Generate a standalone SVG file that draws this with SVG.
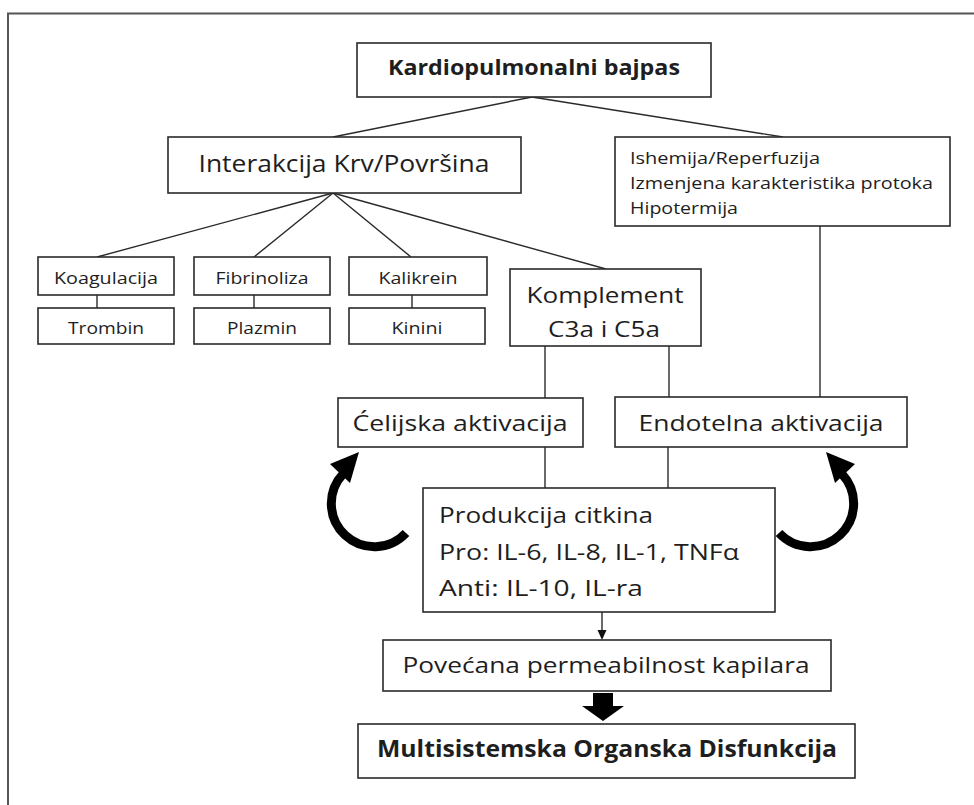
<svg xmlns="http://www.w3.org/2000/svg" width="974" height="805" viewBox="0 0 974 805">
<style>
.box{fill:#fff;stroke:#2a2a2a;stroke-width:1.6}
.t{font-family:"Open Sans","Liberation Sans",Arial,sans-serif;fill:#1e1e1e}
.b{font-weight:bold}
.c{text-anchor:middle}
.ln{stroke:#2a2a2a;stroke-width:1.4;fill:none}
.cur{stroke:#000;stroke-width:9;fill:none}
</style>
<rect width="974" height="805" fill="#fff"/>
<path d="M8 805 V13.5 H974" fill="none" stroke="#555" stroke-width="2"/>

<g id="connectors">
<line class="ln" x1="532" y1="97" x2="333" y2="137"/>
<line class="ln" x1="532" y1="97" x2="783" y2="137"/>
<line class="ln" x1="333" y1="193" x2="97" y2="257"/>
<line class="ln" x1="333" y1="193" x2="254" y2="257"/>
<line class="ln" x1="333" y1="193" x2="411" y2="257"/>
<line class="ln" x1="333" y1="193" x2="606" y2="269"/>
<line class="ln" x1="97" y1="295" x2="97" y2="308"/>
<line class="ln" x1="254" y1="295" x2="254" y2="308"/>
<line class="ln" x1="412" y1="295" x2="412" y2="308"/>
<line class="ln" x1="545" y1="346" x2="545" y2="398"/>
<line class="ln" x1="669" y1="344" x2="669" y2="397"/>
<line class="ln" x1="820" y1="226" x2="820" y2="397"/>
<line class="ln" x1="545" y1="447" x2="545" y2="488"/>
<line class="ln" x1="668" y1="447" x2="668" y2="488"/>
<line class="ln" x1="602" y1="612" x2="602" y2="631"/>
<polygon points="597.5,630 606.5,630 602,640" fill="#111"/>
<polygon points="593,693 613,693 613,706 624,706 603,721 582,706 593,706" fill="#000"/>
<path class="cur" d="M406 533 A42 42 0 1 1 343 474"/>
<polygon points="359,452 330,464 350,483" fill="#000"/>
<path class="cur" d="M779 533 A42 42 0 1 0 842 474"/>
<polygon points="826,452 855,464 835,483" fill="#000"/>
</g>

<g id="n-kardio">
<rect class="box" x="357" y="43" width="354" height="54"/>
<text class="t b c" x="534" y="75" font-size="21" textLength="292" lengthAdjust="spacingAndGlyphs">Kardiopulmonalni bajpas</text>
</g>
<g id="n-interakcija">
<rect class="box" x="168" y="137" width="353" height="56"/>
<text class="t c" x="344" y="172" font-size="23" textLength="291" lengthAdjust="spacingAndGlyphs">Interakcija Krv/Površina</text>
</g>
<g id="n-ishemija">
<rect class="box" x="615" y="137" width="335" height="89"/>
<text class="t" x="630" y="164" font-size="17" textLength="190" lengthAdjust="spacingAndGlyphs">Ishemija/Reperfuzija</text>
<text class="t" x="630" y="189" font-size="17" textLength="303" lengthAdjust="spacingAndGlyphs">Izmenjena karakteristika protoka</text>
<text class="t" x="630" y="214" font-size="17" textLength="108" lengthAdjust="spacingAndGlyphs">Hipotermija</text>
</g>
<g id="n-koagulacija">
<rect class="box" x="38" y="257" width="136" height="38"/>
<text class="t c" x="106" y="284" font-size="16" textLength="104" lengthAdjust="spacingAndGlyphs">Koagulacija</text>
</g>
<g id="n-trombin">
<rect class="box" x="38" y="308" width="136" height="36"/>
<text class="t c" x="106" y="334" font-size="16" textLength="76" lengthAdjust="spacingAndGlyphs">Trombin</text>
</g>
<g id="n-fibrinoliza">
<rect class="box" x="194" y="257" width="136" height="38"/>
<text class="t c" x="262" y="284" font-size="16" textLength="93" lengthAdjust="spacingAndGlyphs">Fibrinoliza</text>
</g>
<g id="n-plazmin">
<rect class="box" x="194" y="308" width="136" height="36"/>
<text class="t c" x="262" y="334" font-size="16" textLength="70" lengthAdjust="spacingAndGlyphs">Plazmin</text>
</g>
<g id="n-kalikrein">
<rect class="box" x="349" y="257" width="138" height="38"/>
<text class="t c" x="418" y="284" font-size="16" textLength="79" lengthAdjust="spacingAndGlyphs">Kalikrein</text>
</g>
<g id="n-kinini">
<rect class="box" x="349" y="308" width="136" height="36"/>
<text class="t c" x="417" y="334" font-size="16" textLength="51" lengthAdjust="spacingAndGlyphs">Kinini</text>
</g>
<g id="n-komplement">
<rect class="box" x="510" y="269" width="191" height="77"/>
<text class="t c" x="605" y="303" font-size="21" textLength="157" lengthAdjust="spacingAndGlyphs">Komplement</text>
<text class="t c" x="604" y="337" font-size="21" textLength="112" lengthAdjust="spacingAndGlyphs">C3a i C5a</text>
</g>
<g id="n-celijska">
<rect class="box" x="338" y="398" width="245" height="49"/>
<text class="t c" x="460" y="431" font-size="21" textLength="215" lengthAdjust="spacingAndGlyphs">Ćelijska aktivacija</text>
</g>
<g id="n-endotelna">
<rect class="box" x="615" y="397" width="292" height="50"/>
<text class="t c" x="761" y="431" font-size="21" textLength="245" lengthAdjust="spacingAndGlyphs">Endotelna aktivacija</text>
</g>
<g id="n-produkcija">
<rect class="box" x="423" y="488" width="352" height="124"/>
<text class="t" x="439" y="523" font-size="21" textLength="214" lengthAdjust="spacingAndGlyphs">Produkcija citkina</text>
<text class="t" x="439" y="560" font-size="21" textLength="300" lengthAdjust="spacingAndGlyphs">Pro: IL-6, IL-8, IL-1, TNFα</text>
<text class="t" x="439" y="596" font-size="21" textLength="204" lengthAdjust="spacingAndGlyphs">Anti: IL-10, IL-ra</text>
</g>
<g id="n-povecana">
<rect class="box" x="383" y="640" width="448" height="51"/>
<text class="t c" x="606" y="673" font-size="22" textLength="407" lengthAdjust="spacingAndGlyphs">Povećana permeabilnost kapilara</text>
</g>
<g id="n-multi">
<rect class="box" x="358" y="724" width="497" height="54"/>
<text class="t b c" x="607" y="757" font-size="24" textLength="460" lengthAdjust="spacingAndGlyphs">Multisistemska Organska Disfunkcija</text>
</g>
</svg>
